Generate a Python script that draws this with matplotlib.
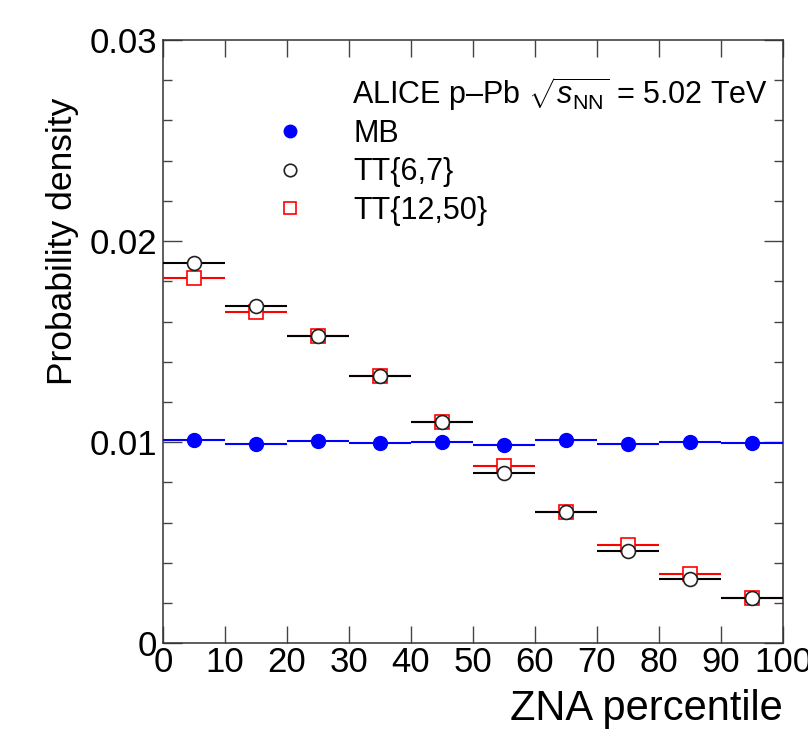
import numpy as np
import matplotlib
matplotlib.use('Agg')
import matplotlib.pyplot as plt
from matplotlib.lines import Line2D
from matplotlib.ticker import FixedLocator, MultipleLocator, FuncFormatter

plt.rcParams['font.family'] = ['Liberation Sans', 'DejaVu Sans']
plt.rcParams['mathtext.fontset'] = 'custom'
plt.rcParams['mathtext.rm'] = 'Liberation Sans'
plt.rcParams['mathtext.it'] = 'Liberation Sans:italic'

# ZNA percentile bins (centres, half width)
bin_centres = [5, 15, 25, 35, 45, 55, 65, 75, 85, 95]
bin_half = 5

mb = [0.01010, 0.00990, 0.01005, 0.00995, 0.01002, 0.00987, 0.01010, 0.00993, 0.01003, 0.00995]
tt_6_7 = [0.01889, 0.01675, 0.01530, 0.01327, 0.01100, 0.00847, 0.00653, 0.00459, 0.00322, 0.00224]
tt_12_50 = [0.01816, 0.01645, 0.01530, 0.01327, 0.01100, 0.00884, 0.00653, 0.00490, 0.00345, 0.00226]

fig = plt.figure(figsize=(8.08, 7.39), dpi=100)
ax = fig.add_axes([0.2017, 0.1295, 0.7673, 0.8164])

ax.errorbar(bin_centres, tt_12_50, xerr=bin_half, fmt='s', color='#ff0000',
            mfc='white', mec='#ff0000', ms=9.5, mew=1.2, elinewidth=1.5,
            capsize=0, zorder=3)
ax.errorbar(bin_centres, tt_6_7, xerr=bin_half, fmt='o', color='black',
            mfc='white', mec='#222222', ms=10, mew=1.2, elinewidth=1.5,
            capsize=0, zorder=4)
ax.errorbar(bin_centres, mb, xerr=bin_half, fmt='o', color='#0000ff',
            mfc='#0000ff', mec='#0000ff', ms=10, elinewidth=1.5,
            capsize=0, zorder=5)

ax.set_xlim(0, 100)
ax.set_ylim(0, 0.03)

ax.xaxis.set_major_locator(MultipleLocator(10))
ax.yaxis.set_major_locator(FixedLocator([0, 0.01, 0.02, 0.03]))
ax.yaxis.set_minor_locator(MultipleLocator(0.002))
ax.yaxis.set_major_formatter(FuncFormatter(lambda v, p: '0' if v == 0 else f'{v:.2f}'))

ax.tick_params(axis='both', which='both', direction='in', top=True, right=True,
               width=1.0, color='#444444', labelsize=25)
ax.tick_params(axis='x', which='major', length=12.5, pad=2)
ax.tick_params(axis='y', which='major', length=13.5, pad=4)
ax.tick_params(axis='y', which='minor', length=6.5)
for s in ax.spines.values():
    s.set_linewidth(1.1)
    s.set_color('#333333')

ax.set_xlabel('ZNA percentile', fontsize=30, loc='right')
ax.xaxis.set_label_coords(1.0, -0.075)
ax.set_ylabel('Probability density', fontsize=25.5, loc='top')
ax.yaxis.set_label_coords(-0.135, 0.905)

ax.text(0.305, 0.894, r'ALICE p–Pb $\sqrt{s_{\mathrm{NN}}}$ = 5.02 TeV',
        transform=ax.transAxes, fontsize=22, va='baseline', ha='left')

handles = [
    Line2D([], [], ls='none', marker='o', color='#0000ff', ms=9),
    Line2D([], [], ls='none', marker='o', mfc='none', mec='#222222', ms=9, mew=1.2),
    Line2D([], [], ls='none', marker='s', mfc='none', mec='#ff0000', ms=9, mew=1.2),
]
ax.legend(handles, ['MB', 'TT{6,7}', 'TT{12,50}'], loc='upper left',
          bbox_to_anchor=(0.1555, 0.869), frameon=False, fontsize=22,
          handlelength=2.0, handletextpad=1.09, labelspacing=0.27,
          borderpad=0, borderaxespad=0)

fig.savefig('out.png', dpi=100)
